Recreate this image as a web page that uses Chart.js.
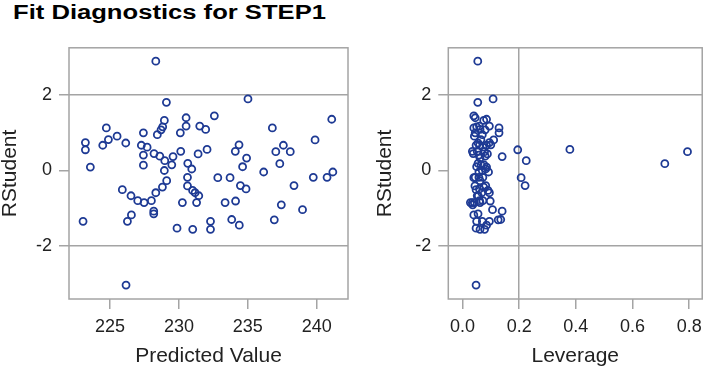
<!DOCTYPE html>
<html lang="en">
<head>
<meta charset="UTF-8">
<title>Fit Diagnostics for STEP1</title>
<script src="https://cdn.jsdelivr.net/npm/chart.js"></script>
<style>
  body {
    margin: 0;
    background: #fff;
    width: 709px;
    height: 370px;
    overflow: hidden;
    position: relative;
    font-family: 'Liberation Sans', Arial, sans-serif;
  }
  #title {
    position: absolute;
    left: 13px;
    top: 0;
    font-weight: bold;
    font-size: 20px;
    line-height: 24px;
    color: #000;
    white-space: nowrap;
    transform: scaleX(1.28);
    transform-origin: left top;
  }
  .panel { position: absolute; top: 30px; }
</style>
</head>
<body>
<div id="title">Fit Diagnostics for STEP1</div>
<div class="panel" style="left:0; width:365px; height:340px;"><canvas id="fitChart" width="365" height="340"></canvas></div>
<div class="panel" style="left:375px; width:334px; height:340px;"><canvas id="levChart" width="334" height="340"></canvas></div>

<script>
const predicted = [
  228.32, 229.09, 235.01, 241.09, 232.57, 230.52, 230.52, 228.94, 228.82, 228.70,
  228.43, 227.42, 230.10, 231.51, 231.94, 224.73, 223.21, 223.21, 224.47, 224.88,
  225.51, 226.14, 223.57, 227.27, 227.69, 227.42, 227.42, 228.19, 228.61, 228.97,
  229.57, 229.48, 230.13, 228.94, 229.11, 230.64, 230.93, 230.62, 230.62, 230.99,
  231.17, 231.44, 228.80, 228.32, 228.00, 227.47, 227.01, 226.52, 225.89, 228.17,
  228.17, 230.25, 231.28, 226.55, 226.26, 223.04, 229.86, 231.00, 232.29, 232.29,
  226.16, 231.39, 232.04, 232.82, 233.71, 234.36, 234.09, 234.91, 234.62, 234.46,
  234.87, 233.35, 234.11, 233.83, 234.38, 236.15, 236.78, 237.03, 237.58, 238.08,
  237.32, 238.35, 237.43, 236.92, 238.97, 239.88, 239.75, 240.75, 241.17
];
const rstudent = [
  2.90, 1.81, 1.90, 1.36, 1.45, 1.40, 1.18, 1.33, 1.16, 1.08,
  0.95, 1.00, 1.00, 1.18, 1.09, 1.13, 0.74, 0.55, 0.67, 0.82,
  0.91, 0.73, 0.09, 0.67, 0.62, 0.41, 0.14, 0.45, 0.38, 0.26,
  0.37, 0.15, 0.51, 0.00, -0.27, 0.19, 0.04, -0.18, -0.41, -0.53,
  -0.59, -0.67, -0.44, -0.59, -0.80, -0.85, -0.80, -0.67, -0.51, -1.08,
  -1.15, -0.85, -0.85, -1.18, -1.35, -1.35, -1.53, -1.56, -1.35, -1.56,
  -3.04, 0.44, 0.56, -0.19, -0.19, 0.68, 0.51, 0.33, 0.10, -0.40,
  -0.49, -0.85, -0.81, -1.30, -1.45, -0.04, 1.13, 0.50, 0.67, 0.50,
  0.18, -0.40, -0.91, -1.31, -1.04, 0.81, -0.18, -0.18, -0.04
];
const leverage = [
  0.054, 0.054, 0.108, 0.085, 0.040, 0.045, 0.060, 0.075, 0.050, 0.080,
  0.070, 0.129, 0.045, 0.095, 0.062, 0.040, 0.095, 0.195, 0.060, 0.065,
  0.042, 0.055, 0.085, 0.048, 0.072, 0.058, 0.066, 0.038, 0.080, 0.225,
  0.140, 0.076, 0.052, 0.070, 0.062, 0.055, 0.082, 0.058, 0.044, 0.090,
  0.068, 0.052, 0.075, 0.095, 0.060, 0.035, 0.072, 0.056, 0.048, 0.140,
  0.055, 0.028, 0.042, 0.040, 0.070, 0.095, 0.048, 0.062, 0.050, 0.078,
  0.048, 0.088, 0.379, 0.207, 0.040, 0.100, 0.035, 0.062, 0.050, 0.082,
  0.060, 0.062, 0.098, 0.135, 0.085, 0.058, 0.129, 0.078, 0.085, 0.794,
  0.714, 0.221, 0.036, 0.126, 0.106, 0.110, 0.045, 0.072, 0.092
];

const yTicks = [-2, 0, 2];
const predTicks = [225, 230, 235, 240];
const levTicks = [0, 0.2, 0.4, 0.6, 0.8];
const yRefLines = [-2, 2];
const levRefLines = [0.2];

const markerBlue = '#1e3a94';
const lineGray = '#a4a4a4';
const textColor = '#222';
const fontFamily = "'Liberation Sans', Arial, sans-serif";

// grey frame round the plot area (SAS style box)
const frame = {
  id: 'frame',
  beforeDatasetsDraw(chart) {
    const { ctx, chartArea: a } = chart;
    ctx.save();
    ctx.strokeStyle = lineGray;
    ctx.lineWidth = 1.5;
    ctx.strokeRect(a.left, a.top, a.right - a.left, a.bottom - a.top);
    ctx.restore();
  }
};

function isRef(list, v) {
  return list.some(r => Math.abs(r - v) < 1e-9);
}

function makeChart(id, xs, opts) {
  const points = xs.map((x, i) => ({ x: x, y: rstudent[i] }));
  return new Chart(document.getElementById(id), {
    type: 'scatter',
    data: {
      datasets: [{
        data: points,
        pointStyle: 'circle',
        pointRadius: 3.5,
        borderWidth: 1.8,
        borderColor: markerBlue,
        backgroundColor: 'rgba(0,0,0,0)'
      }]
    },
    options: {
      responsive: false,
      animation: false,
      events: [],
      layout: { padding: { left: 0, top: 9, right: opts.padRight, bottom: 0 } },
      plugins: { legend: { display: false }, tooltip: { enabled: false } },
      scales: {
        x: {
          type: 'linear',
          min: opts.xMin,
          max: opts.xMax,
          afterBuildTicks: axis => { axis.ticks = opts.xTicks.map(v => ({ value: v })); },
          afterFit: axis => { axis.height = 71; },
          border: { display: false },
          grid: {
            drawTicks: true,
            tickLength: 10,
            tickColor: lineGray,
            lineWidth: 1.5,
            color: c => isRef(opts.xRef, c.tick.value) ? lineGray : 'rgba(0,0,0,0)'
          },
          ticks: {
            autoSkip: false,
            maxRotation: 0,
            padding: 7,
            color: textColor,
            font: { family: fontFamily, size: 18 },
            callback: opts.xFormat
          },
          title: {
            display: true,
            text: opts.xTitle,
            color: textColor,
            font: { family: fontFamily, size: 21, lineHeight: 1 },
            padding: { top: 0, bottom: 3 }
          }
        },
        y: {
          type: 'linear',
          min: -3.41,
          max: 3.256,
          afterBuildTicks: axis => { axis.ticks = yTicks.map(v => ({ value: v })); },
          afterFit: axis => { axis.width = opts.yWidth; },
          border: { display: false },
          grid: {
            drawTicks: true,
            tickLength: 10,
            tickColor: lineGray,
            lineWidth: 1.5,
            color: c => isRef(yRefLines, c.tick.value) ? lineGray : 'rgba(0,0,0,0)'
          },
          ticks: {
            padding: 7,
            color: textColor,
            font: { family: fontFamily, size: 18 }
          },
          title: {
            display: true,
            text: 'RStudent',
            color: textColor,
            font: { family: fontFamily, size: 21, lineHeight: 1 },
            padding: { top: 0, bottom: 0 }
          }
        }
      }
    },
    plugins: [frame]
  });
}

makeChart('fitChart', predicted, {
  xMin: 222.02, xMax: 242.27,
  xTicks: predTicks, xRef: [],
  xTitle: 'Predicted Value',
  xFormat: v => String(v),
  yWidth: 69, padRight: 17
});

makeChart('levChart', leverage, {
  xMin: -0.05, xMax: 0.846,
  xTicks: levTicks, xRef: levRefLines,
  xTitle: 'Leverage',
  xFormat: v => Number(v).toFixed(1),
  yWidth: 73.3, padRight: 1.5
});
</script>
</body>
</html>
